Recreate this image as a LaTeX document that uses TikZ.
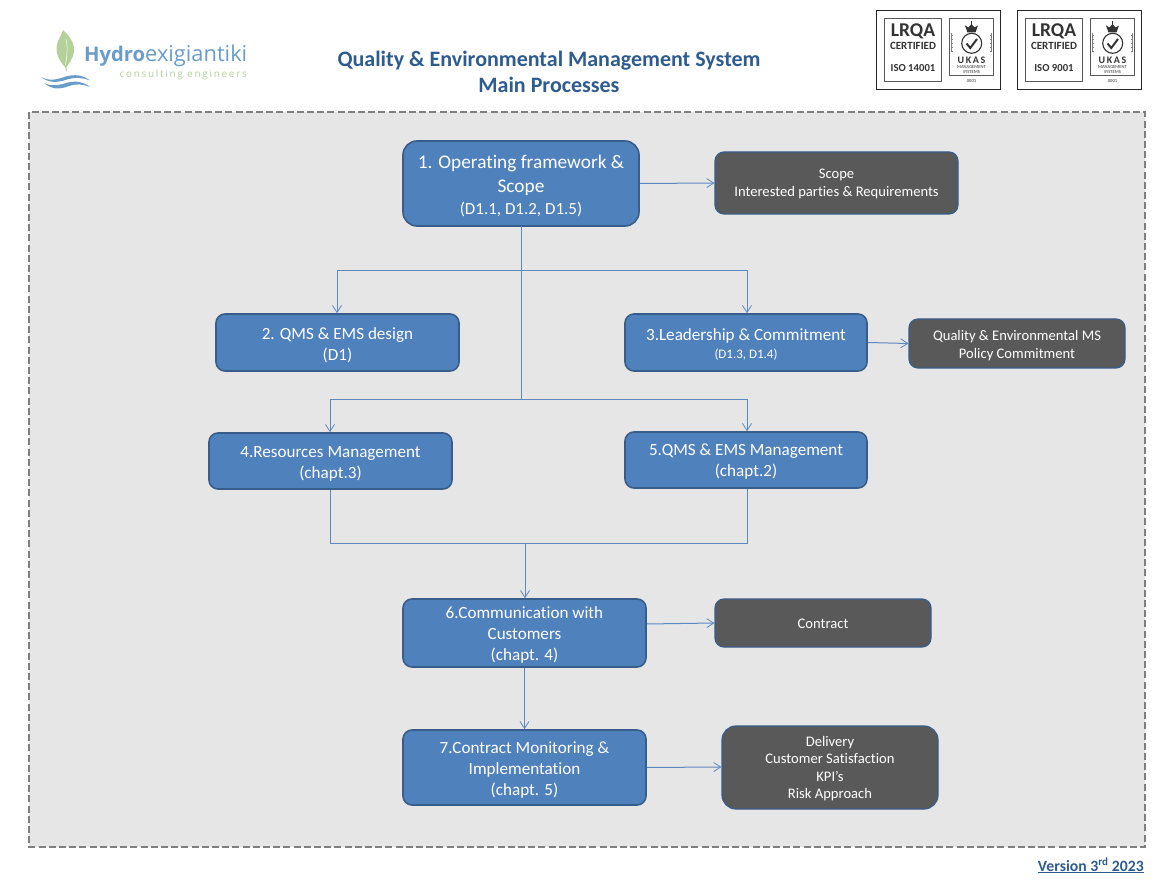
\documentclass[tikz,border=0pt]{standalone}
\usepackage{fontspec}
\setmainfont[Ligatures=NoCommon]{Carlito}
\newfontfamily\logofont{Open Sans}
\usetikzlibrary{arrows.meta}
\definecolor{boxblue}{HTML}{4F81BD}
\definecolor{boxedge}{HTML}{385D8A}
\definecolor{linkblue}{HTML}{5C89C0}
\definecolor{darkbox}{HTML}{595959}
\definecolor{panelfill}{HTML}{E6E6E6}
\definecolor{paneledge}{HTML}{7F7F7F}
\definecolor{titleblue}{HTML}{2F5C8F}
\definecolor{logoblue}{HTML}{6A9CCB}
\definecolor{logogreen}{HTML}{B4D199}
\definecolor{badgeink}{HTML}{333333}
% invisible strut on a first line: nudges a centred text block downwards
\newcommand{\firstline}[1]{\rule{0pt}{#1}}
\tikzset{
  procbox/.style={draw=boxedge,line width=1.6pt,fill=boxblue,rounded corners=#1,text=white,align=center,inner sep=0pt},
  procbox/.default=9pt,
  outbox/.style={draw=boxedge,line width=1.2pt,fill=darkbox,rounded corners=#1,text=white,align=center,inner sep=0pt,font=\fontsize{14.6}{17.5}\selectfont},
  outbox/.default=9pt,
  link/.style={draw=linkblue,line width=1pt},
  linkarrow/.style={link,-{Straight Barb[length=7pt,width=9pt,line width=.8pt]}},
  proctext/.style={font=\fontsize{17.1}{21}\selectfont},
  badgeframe/.style={draw=black!85,line width=1.1pt,fill=white},
  badgeinner/.style={draw=black!65,line width=.7pt},
  badgetext/.style={text=badgeink,inner sep=0pt,anchor=center}
}
% One certification badge: the standard's name goes in the left panel
\newcommand{\certbadge}[3]{%
  \begin{scope}[shift={(#1,0)}]
    \node[badgeframe,minimum width=124pt,minimum height=78.5pt,inner sep=0pt] (#3frame) at (62,50) {};
    \draw[badgeinner] (7.5,18.5) rectangle (65,81.5);
    \draw[badgeinner] (72.5,18.5) rectangle (117,75.7);
    \node[badgetext] (#3lrqa) at (36.5,31.5) {\fontsize{19.5}{20}\selectfont\bfseries LRQA};
    \node[badgetext] (#3cert) at (36.5,46) {\fontsize{11}{11}\selectfont\bfseries CERTIFIED};
    \node[badgetext] (#3iso) at (36.5,68.5) {\fontsize{10.7}{11}\selectfont\bfseries #2};
    % crown
    \fill[badgeink] (91,32.5) -- (88.5,25.5) -- (92,27.5) -- (95,24) -- (98,27.5) -- (101.5,25.5) -- (99,32.5) -- cycle;
    \fill[badgeink] (94.5,21.5) rectangle (95.5,25);
    % tick in a circle
    \draw[badgeink,line width=1.1pt] (95.2,43.3) circle (10);
    \draw[badgeink,line width=2pt] (90,43.5) -- (93.8,48) -- (100.5,39);
    % side scales
    \draw[black!50,line width=.5pt] (75,33) -- (75,52) (115,33) -- (115,52);
    \foreach \t in {35,39,...,51} {\draw[black!50,line width=.4pt] (75,\t) -- (76.5,\t) (115,\t) -- (113.5,\t);}
    \node[badgetext] (#3ukas) at (95,60) {\fontsize{10}{10}\selectfont\bfseries U\,K\,A\,S};
    \node[badgetext,align=center,font=\fontsize{4.6}{4.8}\selectfont] (#3ms) at (95,69.5) {MANAGEMENT\\SYSTEMS};
    \node[badgetext,font=\fontsize{4.6}{5}\selectfont] (#3num) at (95,80.7) {0001};
  \end{scope}}
\begin{document}
\begin{tikzpicture}[x=1pt,y=-1pt]
\useasboundingbox (0,0) rectangle (1171,890);
\fill[white] (0,0) rectangle (1171,890);

% company mark
\fill[logogreen] (66,68) .. controls (60,62) and (55,54) .. (57,45) .. controls (58,38) and (62,35) .. (63,30)
  .. controls (68,35) and (75,42) .. (74,52) .. controls (73,59) and (69,63) .. (66,68) -- cycle;
\draw[logogreen,line width=1pt] (65.5,66) -- (66.5,71);
\draw[white,line width=.5pt] (65.5,65) .. controls (67,55) and (68,48) .. (66,39);
\fill[logoblue] (41,77) .. controls (50,82) and (58,79) .. (66,76.5) .. controls (75,74) and (83,75) .. (90,80.5)
  .. controls (82,77.5) and (76,77) .. (67,79.5) .. controls (57,83) and (49,83) .. (41,77) -- cycle;
\fill[logoblue] (44,83) .. controls (52,87) and (60,85) .. (68,82.5) .. controls (76,80.5) and (84,82) .. (90,87)
  .. controls (82,84) and (77,83.5) .. (69,86) .. controls (59,90) and (51,89) .. (44,83) -- cycle;
\node[anchor=base west,inner sep=0pt,text=logoblue] (brand) at (84,62)
  {\logofont\fontsize{22}{22}\selectfont\resizebox{61pt}{!}{\textbf{Hydro}}\resizebox{102pt}{!}{exigiantiki}};
\node[anchor=base east,inner sep=0pt,text=logogreen] (tagline) at (247,77.5)
  {\logofont\fontsize{10}{10}\selectfont\addfontfeature{LetterSpace=17}consulting engineers};

% title
\node[text=titleblue,align=center,inner sep=0pt,font=\fontsize{22}{26}\selectfont\bfseries] (title) at (549,71.5)
  {Quality \& Environmental Management System\\Main Processes};

% certification badges
\certbadge{876.5}{ISO 14001}{badgeA}
\certbadge{1017.5}{ISO 9001}{badgeB}

% process panel
\draw[draw=paneledge,fill=panelfill,line width=2pt,dash pattern=on 7pt off 3.2pt] (29,112) rectangle (1145,847);

% process steps
\node[procbox=14pt,minimum width=236pt,minimum height=85pt,font=\fontsize{19.3}{24}\selectfont] (n1) at (521,183.5) {%
  \firstline{18pt}1. Operating framework \&\\Scope\\[-2pt]\fontsize{17}{20}\selectfont (D1.1, D1.2, D1.5)};
\node[procbox,proctext,minimum width=243pt,minimum height=57pt] (n2) at (337.5,342.5) {\firstline{18pt}2. QMS \& EMS design\\(D1)};
\node[procbox,proctext,minimum width=242pt,minimum height=57pt] (n3) at (746,342.5) {%
  \firstline{15pt}3.Leadership \& Commitment\\[-3pt]\fontsize{13}{15}\selectfont (D1.3, D1.4)};
\node[procbox,proctext,minimum width=243pt,minimum height=56pt] (n4) at (330.5,461) {\firstline{17pt}4.Resources Management\\(chapt.3)};
\node[procbox,proctext,minimum width=242pt,minimum height=56pt] (n5) at (746,460) {\firstline{14pt}5.QMS \& EMS Management\\(chapt.2)};
\node[procbox,proctext,minimum width=243pt,minimum height=68pt] (n6) at (524.5,633) {\firstline{16pt}6.Communication with\\Customers\\(chapt. 4)};
\node[procbox,proctext,minimum width=243pt,minimum height=75pt] (n7) at (524.5,767.5) {\firstline{16pt}7.Contract Monitoring \&\\Implementation\\(chapt. 5)};

% outputs of the steps
\node[outbox,minimum width=243pt,minimum height=62pt] (g1) at (836.5,183) {\firstline{11pt}Scope\\Interested parties \& Requirements};
\node[outbox,minimum width=216pt,minimum height=49pt] (g3) at (1017,343.5) {\firstline{14pt}Quality \& Environmental MS\\Policy Commitment};
\node[outbox,minimum width=216pt,minimum height=48pt] (g6) at (823,623) {\firstline{12pt}Contract};
\node[outbox=14pt,minimum width=216pt,minimum height=83pt] (g7) at (830,767.5) {\firstline{12pt}Delivery\\Customer Satisfaction\\KPI’s\\Risk Approach};

% junctions of the flow lines
\coordinate (top) at (521,226);
\coordinate (busA) at (521,271);
\coordinate (busB) at (521,400);
\coordinate (dropTwo) at (337,271);
\coordinate (dropThree) at (747,271);
\coordinate (dropFour) at (330,400);
\coordinate (dropFive) at (747,400);
\coordinate (merge) at (525,544);

% flow from step 1 to steps 2-5
\draw[link] (top) -- (busB);
\draw[linkarrow] (busA) -- (dropTwo) -- (dropTwo |- n2.north);
\draw[linkarrow] (busA) -- (dropThree) -- (dropThree |- n3.north);
\draw[linkarrow] (busB) -- (dropFour) -- (dropFour |- n4.north);
\draw[linkarrow] (busB) -- (dropFive) -- (dropFive |- n5.north);

% flow from steps 4 and 5 to step 6, then to step 7
\draw[link] (dropFour |- n4.south) -- (dropFour |- merge) -- (merge);
\draw[link] (dropFive |- n5.south) -- (dropFive |- merge) -- (merge);
\draw[linkarrow] (merge) -- (merge |- n6.north);
\draw[linkarrow] (n6.south) -- (n7.north);

% outputs
\draw[linkarrow] (n1.east) -- (g1.west);
\draw[linkarrow] (n3.east) -- (g3.west);
\draw[linkarrow] ([yshift=9pt]n6.east) -- (g6.west);
\draw[linkarrow] (n7.east) -- ([yshift=0.5pt]g7.west);

% version note
\node[anchor=base east,inner sep=0pt,text=titleblue,font=\fontsize{15.7}{17}\selectfont\bfseries] (version) at (1144,871)
  {\underline{Version 3\textsuperscript{rd} 2023}};
\end{tikzpicture}
\end{document}
